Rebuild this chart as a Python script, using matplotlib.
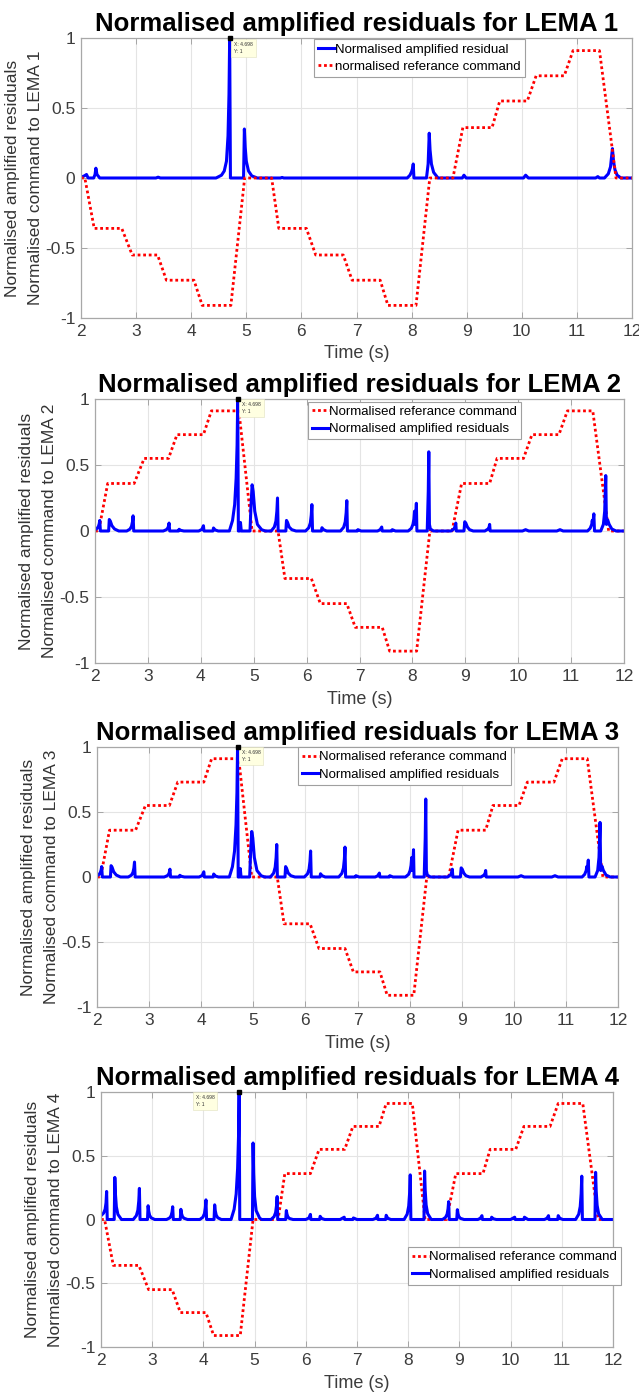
import numpy as np
import matplotlib.pyplot as plt

plt.rcParams['font.family'] = ['Liberation Sans', 'DejaVu Sans']

# reference command profiles (time, normalised value)
cmd_t = [2.0, 2.07, 2.24, 2.74, 2.93, 3.39, 3.55, 4.05, 4.2, 4.72, 4.97, 5.46, 5.59,
         6.09, 6.26, 6.76, 6.92, 7.43, 7.57, 8.08, 8.33, 8.75, 8.93, 9.46, 9.6,
         10.1, 10.26, 10.77, 10.93, 11.41, 11.71, 12.0]
cmd1_y = [0, 0, -0.36, -0.36, -0.55, -0.55, -0.73, -0.73, -0.91, -0.91, 0, 0, -0.36,
          -0.36, -0.55, -0.55, -0.73, -0.73, -0.91, -0.91, 0, 0, 0.36, 0.36, 0.55,
          0.55, 0.73, 0.73, 0.91, 0.91, 0, 0]
cmd2_y = [0, 0, 0.36, 0.36, 0.55, 0.55, 0.73, 0.73, 0.91, 0.91, 0, 0, -0.36,
          -0.36, -0.55, -0.55, -0.73, -0.73, -0.91, -0.91, 0, 0, 0.36, 0.36, 0.55,
          0.55, 0.73, 0.73, 0.91, 0.91, 0, 0]
cmd3_y = cmd2_y
cmd4_y = [0, 0, -0.36, -0.36, -0.55, -0.55, -0.73, -0.73, -0.91, -0.91, 0, 0, 0.36,
          0.36, 0.55, 0.55, 0.73, 0.73, 0.91, 0.91, 0, 0, 0.36, 0.36, 0.55,
          0.55, 0.73, 0.73, 0.91, 0.91, 0, 0]

# amplified residuals, LEMA 1
res1 = [(2.00, 0.005), (2.06, 0.015), (2.10, 0.025), (2.13, 0.0),
        (2.23, 0.0), (2.255, 0.025), (2.27, 0.07), (2.29, 0.025), (2.34, 0.0),
        (3.36, 0.0), (3.40, 0.006), (3.44, 0.0),
        (4.45, 0.0), (4.55, 0.02), (4.60, 0.05), (4.64, 0.12), (4.668, 0.3), (4.686, 0.6),
        (4.698, 1.0), (4.712, 0.0),
        (4.95, 0.0), (4.965, 0.35), (4.98, 0.22), (5.00, 0.12), (5.04, 0.05), (5.10, 0.015),
        (5.20, 0.0),
        (5.62, 0.0), (5.65, 0.004), (5.68, 0.0),
        (7.92, 0.0), (7.97, 0.02), (8.00, 0.045), (8.018, 0.07), (8.03, 0.10), (8.042, 0.0),
        (8.27, 0.0), (8.30, 0.10), (8.32, 0.32), (8.335, 0.2), (8.36, 0.1), (8.40, 0.04),
        (8.48, 0.0),
        (8.92, 0.0), (8.95, 0.02), (8.99, 0.0),
        (10.03, 0.0), (10.07, 0.02), (10.12, 0.0),
        (11.34, 0.0), (11.38, 0.01), (11.41, 0.0),
        (11.50, 0.0), (11.57, 0.03), (11.61, 0.08), (11.645, 0.21), (11.665, 0.12),
        (11.69, 0.06), (11.73, 0.02), (11.80, 0.0), (12.0, 0.0)]

# amplified residuals, LEMA 2 (LEMA 3 shows the same trace)
res2 = [(2.00, 0.01), (2.04, 0.02), (2.065, 0.035), (2.08, 0.055), (2.09, 0.08), (2.102, 0.0),
        (2.258, 0.0), (2.27, 0.087), (2.29, 0.075), (2.32, 0.04), (2.37, 0.015), (2.45, 0.0),
        (2.60, 0.0), (2.66, 0.014), (2.69, 0.035), (2.708, 0.069), (2.72, 0.115), (2.732, 0.0),
        (3.29, 0.0), (3.35, 0.01), (3.38, 0.025), (3.39, 0.04), (3.40, 0.06), (3.412, 0.0),
        (3.58, 0.0), (3.59, 0.013), (3.62, 0.005), (3.68, 0.0),
        (3.96, 0.0), (4.02, 0.012), (4.05, 0.04), (4.06, 0.0),
        (4.23, 0.0), (4.24, 0.023), (4.27, 0.008), (4.33, 0.0),
        (4.54, 0.0), (4.60, 0.08), (4.64, 0.2), (4.668, 0.4), (4.686, 0.65), (4.698, 1.0),
        (4.71, 0.0),
        (4.735, 0.0), (4.75, 0.065), (4.765, 0.0),
        (4.93, 0.0), (4.95, 0.2), (4.97, 0.35), (4.99, 0.3), (5.02, 0.15), (5.07, 0.05),
        (5.15, 0.01), (5.22, 0.0),
        (5.33, 0.0), (5.39, 0.03), (5.42, 0.075), (5.438, 0.15), (5.45, 0.25), (5.462, 0.0),
        (5.608, 0.0), (5.62, 0.08), (5.64, 0.065), (5.67, 0.03), (5.72, 0.01), (5.80, 0.0),
        (5.98, 0.0), (6.04, 0.024), (6.07, 0.06), (6.088, 0.12), (6.10, 0.20), (6.112, 0.0),
        (6.28, 0.0), (6.29, 0.025), (6.32, 0.01), (6.38, 0.0),
        (6.64, 0.0), (6.70, 0.028), (6.73, 0.069), (6.748, 0.138), (6.76, 0.23), (6.772, 0.0),
        (6.96, 0.0), (6.97, 0.01), (7.03, 0.0),
        (7.34, 0.0), (7.39, 0.01), (7.42, 0.03), (7.43, 0.0),
        (7.61, 0.0), (7.62, 0.01), (7.68, 0.0),
        (7.92, 0.0), (7.98, 0.02), (8.01, 0.05), (8.028, 0.09), (8.04, 0.15), (8.05, 0.05),
        (8.062, 0.1), (8.075, 0.21), (8.085, 0.0),
        (8.28, 0.0), (8.30, 0.3), (8.31, 0.60), (8.322, 0.05), (8.34, 0.015), (8.40, 0.0),
        (8.73, 0.0), (8.79, 0.018), (8.81, 0.04), (8.82, 0.06), (8.83, 0.0),
        (8.975, 0.0), (8.99, 0.07), (9.01, 0.06), (9.04, 0.03), (9.08, 0.01), (9.15, 0.0),
        (9.37, 0.0), (9.43, 0.015), (9.45, 0.03), (9.46, 0.05), (9.47, 0.0),
        (10.08, 0.0), (10.14, 0.01), (10.20, 0.0),
        (10.73, 0.0), (10.79, 0.01), (10.85, 0.0),
        (11.31, 0.0), (11.36, 0.02), (11.39, 0.05), (11.40, 0.08), (11.41, 0.05),
        (11.43, 0.13), (11.442, 0.0),
        (11.56, 0.0), (11.61, 0.05), (11.635, 0.15), (11.655, 0.42), (11.668, 0.05),
        (11.69, 0.085), (11.72, 0.05), (11.77, 0.015), (11.85, 0.0), (12.0, 0.0)]
res3 = res2

# amplified residuals, LEMA 4
res4 = [(2.00, 0.03), (2.05, 0.05), (2.08, 0.08), (2.098, 0.13), (2.11, 0.22), (2.122, 0.0),
        (2.258, 0.0), (2.27, 0.33), (2.282, 0.2), (2.30, 0.1), (2.33, 0.04), (2.40, 0.0),
        (2.63, 0.0), (2.69, 0.03), (2.72, 0.073), (2.738, 0.146), (2.75, 0.244), (2.762, 0.0),
        (2.908, 0.0), (2.92, 0.108), (2.932, 0.065), (2.95, 0.032), (2.98, 0.013), (3.05, 0.0),
        (3.28, 0.0), (3.34, 0.012), (3.37, 0.03), (3.388, 0.06), (3.40, 0.10), (3.412, 0.0),
        (3.548, 0.0), (3.56, 0.08), (3.572, 0.048), (3.59, 0.024), (3.62, 0.01), (3.69, 0.0),
        (3.93, 0.0), (3.99, 0.018), (4.02, 0.046), (4.038, 0.092), (4.05, 0.154), (4.062, 0.0),
        (4.208, 0.0), (4.22, 0.115), (4.232, 0.069), (4.25, 0.035), (4.28, 0.014), (4.35, 0.0),
        (4.54, 0.0), (4.60, 0.08), (4.64, 0.2), (4.668, 0.4), (4.686, 0.65), (4.698, 1.0),
        (4.71, 0.0),
        (4.958, 0.0), (4.97, 0.6), (4.982, 0.36), (5.00, 0.18), (5.03, 0.07), (5.10, 0.01),
        (5.14, 0.0),
        (5.32, 0.0), (5.38, 0.022), (5.41, 0.054), (5.428, 0.108), (5.44, 0.18), (5.452, 0.0),
        (5.608, 0.0), (5.62, 0.07), (5.632, 0.042), (5.65, 0.021), (5.68, 0.008), (5.75, 0.0),
        (6.00, 0.0), (6.06, 0.012), (6.09, 0.04), (6.10, 0.0),
        (6.27, 0.0), (6.28, 0.025), (6.31, 0.008), (6.37, 0.0),
        (6.67, 0.0), (6.75, 0.018), (6.76, 0.0),
        (6.92, 0.0), (6.93, 0.012), (7.00, 0.0),
        (7.31, 0.0), (7.37, 0.01), (7.40, 0.033), (7.41, 0.0),
        (7.56, 0.0), (7.57, 0.033), (7.60, 0.01), (7.66, 0.0),
        (7.92, 0.0), (7.98, 0.042), (8.01, 0.105), (8.028, 0.21), (8.04, 0.35), (8.052, 0.0),
        (8.308, 0.0), (8.32, 0.38), (8.332, 0.228), (8.35, 0.114), (8.38, 0.046), (8.45, 0.0),
        (8.67, 0.0), (8.73, 0.017), (8.76, 0.042), (8.778, 0.084), (8.79, 0.14), (8.802, 0.0),
        (8.948, 0.0), (8.96, 0.077), (8.972, 0.046), (8.99, 0.023), (9.02, 0.009), (9.09, 0.0),
        (9.36, 0.0), (9.41, 0.01), (9.44, 0.03), (9.45, 0.0),
        (9.62, 0.0), (9.63, 0.018), (9.66, 0.006), (9.72, 0.0),
        (10.00, 0.0), (10.08, 0.018), (10.09, 0.0),
        (10.26, 0.0), (10.27, 0.018), (10.34, 0.0),
        (10.66, 0.0), (10.71, 0.01), (10.74, 0.03), (10.75, 0.0),
        (10.92, 0.0), (10.93, 0.03), (10.96, 0.01), (11.02, 0.0),
        (11.27, 0.0), (11.33, 0.041), (11.36, 0.102), (11.378, 0.204), (11.39, 0.34),
        (11.402, 0.0),
        (11.648, 0.0), (11.66, 0.37), (11.672, 0.222), (11.69, 0.111), (11.72, 0.044),
        (11.79, 0.0), (12.0, 0.0)]

tip_x, tip_y = 4.698, 1.0

# axes boxes in pixels: left, right, top, bottom
boxes = [(81, 632, 38, 318), (95, 624, 399, 663), (97, 618, 747, 1007), (101, 613, 1092, 1347)]
W, H = 639, 1395

fig = plt.figure(figsize=(W / 100, H / 100), dpi=100)

red_kw = dict(color='#ff0000', lw=2.0, linestyle=(0, (1, 1)))
blue_kw = dict(color='#0000ff', lw=2.2)
labels = ['Normalised referance command', 'Normalised amplified residuals']
panels = [
    (res1, cmd1_y, 'blue_first', (0.423, 0.995), 'right'),
    (res2, cmd2_y, 'red_first', (0.403, 0.99), 'right'),
    (res3, cmd3_y, 'red_first', (0.385, 1.0), 'right'),
    (res4, cmd4_y, 'red_first', (0.60, 0.392), 'left'),
]

for i, (res, cmd_y, order, leg_pos, tip_side) in enumerate(panels):
    l, r, t, b = boxes[i]
    ax = fig.add_axes([l / W, 1 - b / H, (r - l) / W, (b - t) / H])
    rt = [p[0] for p in res]
    ry = [p[1] for p in res]

    if order == 'blue_first':
        hb, = ax.plot(rt, ry, **blue_kw, label='Normalised amplified residual')
        hr, = ax.plot(cmd_t, cmd_y, **red_kw, label='normalised referance command')
        handles = [hb, hr]
    else:
        hr, = ax.plot(cmd_t, cmd_y, **red_kw, label=labels[0])
        hb, = ax.plot(rt, ry, **blue_kw, label=labels[1])
        handles = [hr, hb]

    # data tip on the main residual peak
    ax.plot([tip_x], [tip_y], 's', color='black', ms=3.5, clip_on=False, zorder=5)
    if tip_side == 'right':
        tx = tip_x + 0.08
    else:
        tx = tip_x - 0.85
    ax.text(tx, 0.93, 'X: 4.698\nY: 1', fontsize=3.6, ha='left', va='center',
            linespacing=1.6, color='#333333',
            bbox=dict(boxstyle='square,pad=0.6', fc='#ffffe1', ec='#e0e0c0', lw=0.4))

    ax.set_xlim(2, 12)
    ax.set_ylim(-1, 1)
    ax.set_xticks(np.arange(2, 13, 1))
    ax.set_yticks([-1, -0.5, 0, 0.5, 1])
    ax.set_yticklabels(['-1', '-0.5', '0', '0.5', '1'])
    ax.grid(True, color='#e4e4e4', lw=0.8)
    ax.set_axisbelow(True)
    ax.tick_params(direction='in', length=4, width=0.6, colors='#9a9a9a',
                   labelcolor='#3c3c3c', labelsize=12.5, top=True, right=True, pad=4)
    for s in ax.spines.values():
        s.set_color('#a8a8a8')
        s.set_linewidth(0.9)

    ax.set_title(f'Normalised amplified residuals for LEMA {i + 1}',
                 fontsize=18.5, fontweight='bold', pad=5)
    ax.set_xlabel('Time (s)', fontsize=13, color='#3c3c3c', labelpad=5)
    ax.set_ylabel(f'Normalised amplified residuals\nNormalised command to LEMA {i + 1}',
                  fontsize=12.5, color='#333333', linespacing=1.6, labelpad=2)

    leg = ax.legend(handles=handles, loc='upper left', bbox_to_anchor=leg_pos,
                    fontsize=9.5, handlelength=1.3, handletextpad=0.0,
                    borderpad=0.3, labelspacing=0.4, borderaxespad=0.0,
                    fancybox=False, framealpha=1)
    leg.get_frame().set_edgecolor('#a0a0a0')
    leg.get_frame().set_linewidth(0.8)

fig.savefig('out.png', dpi=100)
